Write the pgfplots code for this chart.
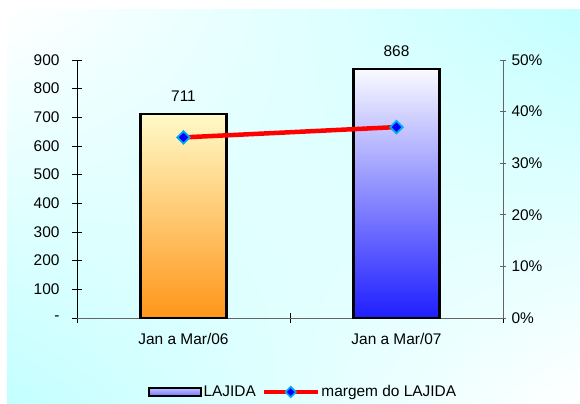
\documentclass[border=0pt]{standalone}
\usepackage{pgfplots}
\pgfplotsset{compat=1.18}
\usetikzlibrary{shadings}
\usepackage{fontspec}
\setmainfont{Liberation Sans}
\definecolor{bgcyan}{RGB}{195,255,255}
\definecolor{ylight}{RGB}{255,250,200}
\definecolor{yorange}{RGB}{255,150,25}
\definecolor{blight}{RGB}{250,250,255}
\definecolor{bdark}{RGB}{30,30,255}
\definecolor{axgray}{RGB}{100,100,100}
\begin{document}
\begin{tikzpicture}[x=1bp,y=1bp]
\path[use as bounding box] (0,0) rectangle (580,403);
\shade[upper left=white, upper right=bgcyan, lower left=bgcyan, lower right=white] (7,0) rectangle (580,393);
\begin{axis}[
  at={(77bp,85bp)}, anchor=south west,
  scale only axis, width=426bp, height=258bp,
  xmin=-0.5, xmax=1.5, ymin=0, ymax=900,
  axis y line*=left, axis x line*=bottom,
  axis line style={line width=0.8bp},
  y axis line style={black},
  x axis line style={axgray},
  xtick={0,1}, xticklabels={Jan a Mar/06,Jan a Mar/07},
  minor xtick={-0.5,0.5,1.5},
  major x tick style={draw=none},
  minor x tick style={black, line width=0.8bp},
  minor tick length=10bp,
  xtick align=center,
  ytick={0,100,...,900},
  yticklabels={-,100,200,300,400,500,600,700,800,900},
  ytick align=center, major tick length=10bp,
  y tick style={black, line width=0.8bp},
  tick label style={font=\fontsize{15.5}{18}\selectfont},
  /pgf/number format/assume math mode=true,
  xticklabel style={yshift=-7bp},
  yticklabel style={xshift=-9bp},
  clip=false,
  nodes near coords,
  every node near coord/.append style={font=\fontsize{15.5}{18}\selectfont, yshift=8bp},
]
\addplot[ybar, bar width=86bp, bar shift=0pt, draw=black, line width=2.4bp, top color=ylight, bottom color=yorange] coordinates {(0,711)};
\addplot[ybar, bar width=86bp, bar shift=0pt, draw=black, line width=2.4bp, top color=blight, bottom color=bdark] coordinates {(1,868)};
\end{axis}
\begin{axis}[
  at={(77bp,85bp)}, anchor=south west,
  scale only axis, width=426bp, height=258bp,
  xmin=-0.5, xmax=1.5, ymin=0, ymax=50,
  axis y line*=right, axis x line=none,
  axis line style={axgray, line width=0.8bp},
  ytick={0,10,...,50},
  yticklabels={0\%,10\%,20\%,30\%,40\%,50\%},
  ytick align=center, major tick length=6bp,
  y tick style={axgray, line width=0.8bp},
  tick label style={font=\fontsize{15.5}{18}\selectfont},
  /pgf/number format/assume math mode=true,
  yticklabel style={xshift=2bp},
  clip=false,
  legend style={draw=none, fill=none, at={(rel axis cs:0.53,-0.287)}, anchor=center,
    legend columns=2, font=\fontsize{15.5}{18}\selectfont,
    /tikz/every even column/.append style={column sep=4bp},
    nodes={inner xsep=1.5bp}},
]
\addlegendimage{legend image code/.code={\draw[black, line width=2.2bp, top color=white!50!blue!50, bottom color=blue!55] (0bp,-3.8bp) rectangle (52bp,3.8bp);}}
\addlegendentry{LAJIDA}
\addplot[red, line width=4.5bp, mark=square*, mark size=4.4bp,
  mark options={rotate=45, fill=blue, draw=cyan, line width=1.8bp},
  legend image code/.code={\draw[red, line width=4.5bp] (0bp,0bp) -- (54bp,0bp);
    \draw[fill=blue, draw=cyan, line width=1.6bp, rotate around={45:(27bp,0bp)}] (23.3bp,-3.7bp) rectangle (30.7bp,3.7bp);}]
  coordinates {(0,35) (1,37)};
\addlegendentry{margem do LAJIDA}
\end{axis}
\end{tikzpicture}
\end{document}
